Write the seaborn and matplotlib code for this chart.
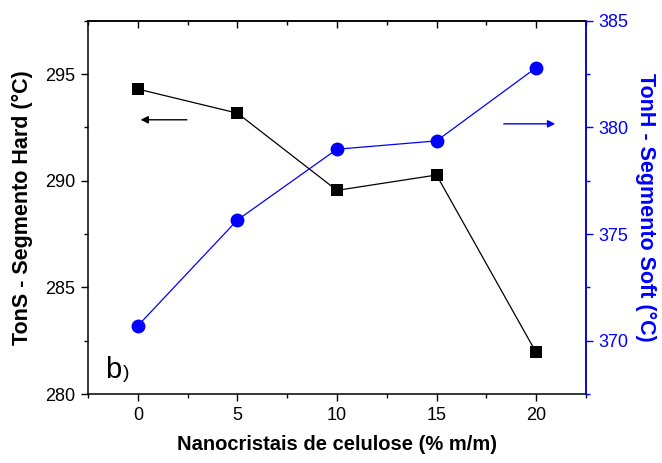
import numpy as np
import pandas as pd
import matplotlib
matplotlib.use("Agg")
import matplotlib.pyplot as plt
from matplotlib.ticker import MultipleLocator
import seaborn as sns

# data
conc = [0, 5, 10, 15, 20]
t_hard = [294.3, 293.17, 289.55, 290.27, 281.95]
t_soft = [370.7, 375.66, 378.98, 379.37, 382.8]

sns.set_style("ticks")
plt.rcParams['font.family'] = ['Liberation Sans', 'DejaVu Sans']
plt.rcParams['text.color'] = 'black'
plt.rcParams['axes.labelcolor'] = 'black'

df = pd.DataFrame({'conc': conc, 'hard': t_hard, 'soft': t_soft})

fig, ax = plt.subplots(figsize=(6.62, 4.63), dpi=100)
fig.subplots_adjust(left=0.133, right=0.885, bottom=0.149, top=0.955)

sns.lineplot(data=df, x='conc', y='hard', ax=ax, color='black', marker='s',
             markersize=8, linewidth=0.9, markeredgewidth=0)
ax2 = ax.twinx()
sns.lineplot(data=df, x='conc', y='soft', ax=ax2, color='blue', marker='o',
             markersize=10, linewidth=0.9, markeredgewidth=0)

ax.set_xlim(-2.5, 22.5)
ax.set_ylim(280, 297.5)
ax2.set_ylim(367.5, 385)

ax.xaxis.set_major_locator(MultipleLocator(5))
ax.xaxis.set_minor_locator(MultipleLocator(2.5))
ax.yaxis.set_major_locator(MultipleLocator(5))
ax.yaxis.set_minor_locator(MultipleLocator(2.5))
ax2.yaxis.set_major_locator(MultipleLocator(5))
ax2.yaxis.set_minor_locator(MultipleLocator(2.5))

for sp in ax.spines.values():
    sp.set_linewidth(1.1)
    sp.set_color('black')
for sp in ax2.spines.values():
    sp.set_linewidth(1.1)
ax2.spines['right'].set_color('blue')
ax2.spines['left'].set_visible(False)
ax2.spines['top'].set_visible(False)
ax2.spines['bottom'].set_visible(False)

ax.tick_params(axis='both', which='major', direction='out', length=5, width=1,
               labelsize=13, colors='black', pad=4)
ax.tick_params(axis='both', which='minor', direction='out', length=3, width=1, colors='black')
ax2.tick_params(axis='y', which='major', direction='out', length=5, width=1,
                labelsize=13, colors='blue', pad=4)
ax2.tick_params(axis='y', which='minor', direction='out', length=3, width=1, colors='blue')

top = ax.secondary_xaxis('top')
top.xaxis.set_major_locator(MultipleLocator(5))
top.xaxis.set_minor_locator(MultipleLocator(2.5))
top.tick_params(which='major', direction='in', length=5, width=1, labeltop=False, colors='black')
top.tick_params(which='minor', direction='in', length=3, width=1, colors='black')
top.spines['top'].set_linewidth(1.1)
top.spines['top'].set_color('black')

ax.set_xlabel('Nanocristais de celulose (% m/m)', fontsize=14.5, fontweight='bold', labelpad=8)
ax.set_ylabel('TonS - Segmento Hard (°C)', fontsize=15.5, fontweight='bold', labelpad=9)
ax2.set_ylabel('TonH - Segmento Soft (°C)', fontsize=15.5, fontweight='bold', color='blue',
               rotation=270, labelpad=20)

ax.annotate('', xy=(0, 292.86), xytext=(2.6, 292.86),
            arrowprops=dict(arrowstyle='-|>', color='black', lw=1.0, mutation_scale=11))
ax2.annotate('', xy=(21.1, 380.17), xytext=(18.24, 380.17),
             arrowprops=dict(arrowstyle='-|>', color='blue', lw=1.0, mutation_scale=11))

ax.text(-1.62, 280.75, 'b', fontsize=21)
ax.text(-0.75, 280.75, ')', fontsize=14)

fig.savefig('out.png', dpi=100)
